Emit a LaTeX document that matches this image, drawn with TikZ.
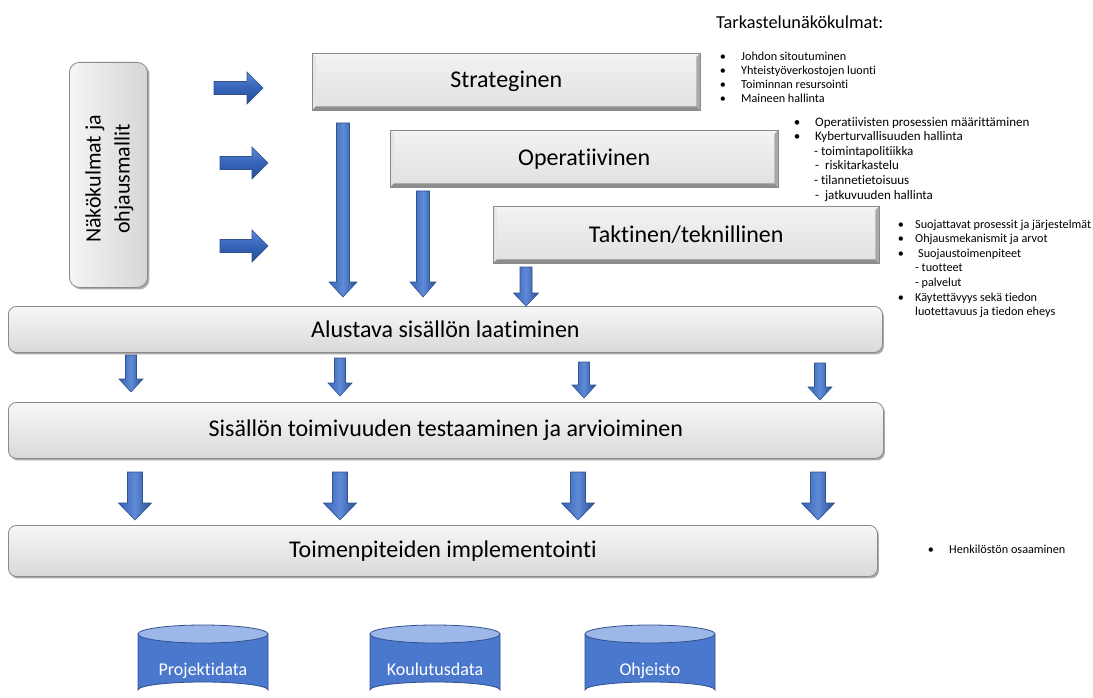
\documentclass[tikz,border=0pt]{standalone}
\usepackage{fontspec}
\setmainfont{Carlito}[Ligatures=NoCommon]
\usetikzlibrary{calc,shadows}
\definecolor{blueE}{HTML}{3463B8}
\definecolor{blueM}{HTML}{5F8AD6}
\definecolor{blueK}{HTML}{274E94}
\definecolor{blueO}{HTML}{2F528F}
\definecolor{cylBody}{HTML}{4A78CC}
\definecolor{cylTop}{HTML}{9DB7E8}
\definecolor{bevTop}{HTML}{F4F4F4}
\definecolor{bevLeft}{HTML}{E4E4E4}
\definecolor{bevBot}{HTML}{8E8E8E}
\definecolor{bevRight}{HTML}{A9A9A9}
\definecolor{boxEdge}{HTML}{8A8A8A}
\newcommand{\bevelfx}[1]{%
  \fill[bevTop] (#1.north west) -- (#1.north east) -- ($(#1.north east)+(-4,4)$) -- ($(#1.north west)+(4,4)$) -- cycle;
  \fill[bevLeft] (#1.north west) -- ($(#1.north west)+(4,4)$) -- ($(#1.south west)+(4,-4)$) -- (#1.south west) -- cycle;
  \fill[bevBot] (#1.south west) -- (#1.south east) -- ($(#1.south east)+(-4,-4)$) -- ($(#1.south west)+(4,-4)$) -- cycle;
  \fill[bevRight] (#1.north east) -- ($(#1.north east)+(-4,4)$) -- ($(#1.south east)+(-4,-4)$) -- (#1.south east) -- cycle;
  \draw[boxEdge,line width=0.8pt] (#1.north west) rectangle (#1.south east);
}
\newcommand{\varrow}[5]{%
  \draw[vblk] let \p1=#1, \p2=#2 in
   ({\x1-#3pt},\y1) -- ({\x1+#3pt},\y1) -- ({\x1+#3pt},{\y2+#5pt}) -- ({\x1+#4pt},{\y2+#5pt})
   -- (\x1,\y2) -- ({\x1-#4pt},{\y2+#5pt}) -- ({\x1-#3pt},{\y2+#5pt}) -- cycle;
}
\newcommand{\harrow}[5]{%
  \draw[hblk] let \p1=#1, \p2=#2 in
   (\x1,{\y1+#3pt}) -- (\x1,{\y1-#3pt}) -- ({\x2-#5pt},{\y1-#3pt}) -- ({\x2-#5pt},{\y1-#4pt})
   -- (\x2,\y1) -- ({\x2-#5pt},{\y1+#4pt}) -- ({\x2-#5pt},{\y1+#3pt}) -- cycle;
}
\tikzset{
  vblk/.style={draw=blueO, line width=0.6pt, left color=blueE, right color=blueK, middle color=blueM},
  hblk/.style={draw=blueO, line width=0.6pt, top color=blueM, bottom color=blueK, middle color=blueE},
  bevelbox/.style={rectangle, inner sep=0pt, anchor=north west, top color=gray!10, bottom color=gray!24},
  bigtext/.style={font=\fontsize{24}{28}\selectfont},
  roundbox/.style={rectangle, rounded corners=8pt, inner sep=0pt, anchor=north west, draw=boxEdge, line width=0.8pt,
     top color=gray!6, bottom color=gray!30, bigtext,
     drop shadow={shadow xshift=1.5pt, shadow yshift=-2pt, opacity=0.6, fill=black!55}},
  sidebox/.style={rectangle, rounded corners=10pt, inner sep=0pt, anchor=north west, draw=boxEdge, line width=0.8pt,
     left color=gray!8, right color=gray!32,
     drop shadow={shadow xshift=2pt, shadow yshift=-2pt, opacity=0.6, fill=black!55}},
  cyltext/.style={text=white, anchor=base, inner sep=0pt, font=\fontsize{18}{21}\selectfont},
  cyl/.style={draw=blueO, line width=0.8pt},
  lst/.style={anchor=base west, inner sep=0pt, font=\fontsize{13}{15}\selectfont},
  bul/.style={anchor=base, inner sep=0pt, font=\fontsize{13}{15}\selectfont},
  lsts/.style={anchor=base west, inner sep=0pt, font=\fontsize{12.2}{14}\selectfont},
  buls/.style={anchor=base, inner sep=0pt, font=\fontsize{12.2}{14}\selectfont},
}
\newcommand{\cylinderat}[3]{% name, left x, text
  \fill[cylBody] (#2,634) -- (#2,690) arc[start angle=180, end angle=360, x radius=65, y radius=8] -- ({#2+130},634) -- cycle;
  \draw[cyl] (#2,634) -- (#2,690) arc[start angle=180, end angle=360, x radius=65, y radius=8] -- ({#2+130},634);
  \draw[cyl, fill=cylTop] ({#2+65},634) ellipse[x radius=65, y radius=9];
  \node[cyltext] (#1) at ({#2+65},675) {#3};
}
\begin{document}
\begin{tikzpicture}[x=1pt,y=-1pt]
\clip (0,0) rectangle (1093,698);
\fill[white] (0,0) rectangle (1093,698);

% side box
\node[sidebox, minimum width=78, minimum height=225] (side) at (69,62) {};
\node[rotate=90, align=center, font=\fontsize{22}{29}\selectfont] (sidet) at ([xshift=1pt,yshift=-4pt]side.center) {Näkökulmat ja\\ohjausmallit};

% bevel boxes
\node[bevelbox, minimum width=388, minimum height=57] (strat) at (312,53) {};
\bevelfx{strat}
\node[bigtext] (stratt) at (strat.center) {Strateginen};
\node[bevelbox, minimum width=388, minimum height=57] (oper) at (390,130) {};
\bevelfx{oper}
\node[bigtext] (opert) at (oper.center) {Operatiivinen};
\node[bevelbox, minimum width=386, minimum height=57] (takt) at (493,206) {};
\bevelfx{takt}
\node[bigtext] (taktt) at (takt.center) {Taktinen/teknillinen};

% rounded boxes
\node[roundbox, minimum width=874, minimum height=46] (alust) at (8,306) {Alustava sisällön laatiminen};
\node[roundbox, minimum width=875, minimum height=56] (sisal) at (8,402) {Sisällön toimivuuden testaaminen ja arvioiminen};
\node[roundbox, minimum width=869, minimum height=51] (toimp) at (8,525) {Toimenpiteiden implementointi};

% horizontal arrows
\coordinate (h1s) at (214,88); \coordinate (h1e) at (263,88);
\coordinate (h2s) at (220,163); \coordinate (h2e) at (268,163);
\coordinate (h3s) at (220,246); \coordinate (h3e) at (268,246);
\harrow{(h1s)}{(h1e)}{6.5}{16}{16}
\harrow{(h2s)}{(h2e)}{6.5}{16}{16}
\harrow{(h3s)}{(h3e)}{6.5}{16}{16}

% long vertical arrows
\coordinate (v1s) at (343,123); \coordinate (v1e) at (343,297);
\coordinate (v2s) at (423,191); \coordinate (v2e) at (423,297);
\coordinate (v3s) at (526,267); \coordinate (v3e) at (526,306);
\varrow{(v1s)}{(v1e)}{6.5}{14}{15}
\varrow{(v2s)}{(v2e)}{6.5}{13}{15}
\varrow{(v3s)}{(v3e)}{6}{12.5}{13}

% arrows alust -> sisal
\coordinate (m1s) at (131,355); \coordinate (m1e) at (131,392);
\coordinate (m2s) at (340,358); \coordinate (m2e) at (340,396);
\coordinate (m3s) at (584,362); \coordinate (m3e) at (584,398);
\coordinate (m4s) at (820,363); \coordinate (m4e) at (820,400);
\varrow{(m1s)}{(m1e)}{5.5}{12}{13}
\varrow{(m2s)}{(m2e)}{5.5}{12}{13}
\varrow{(m3s)}{(m3e)}{5.5}{12}{13}
\varrow{(m4s)}{(m4e)}{5.5}{12}{13}

% arrows sisal -> toimp
\coordinate (b1s) at (135,472); \coordinate (b1e) at (135,520);
\coordinate (b2s) at (340,472); \coordinate (b2e) at (340,520);
\coordinate (b3s) at (578,472); \coordinate (b3e) at (578,520);
\coordinate (b4s) at (818,472); \coordinate (b4e) at (818,520);
\varrow{(b1s)}{(b1e)}{7.5}{16.5}{17}
\varrow{(b2s)}{(b2e)}{7.5}{16.5}{17}
\varrow{(b3s)}{(b3e)}{7.5}{16.5}{17}
\varrow{(b4s)}{(b4e)}{7.5}{16.5}{17}

% cylinders
\cylinderat{cyl1}{138}{Projektidata}
\cylinderat{cyl2}{370}{Koulutusdata}
\cylinderat{cyl3}{585}{Ohjeisto}

% title
\node[anchor=west, inner sep=0pt, font=\fontsize{18.3}{22}\selectfont] (title) at (716,22) {Tarkastelunäkökulmat:};

% list 1
\foreach \yy/\tt [count=\i] in {60.5/Johdon sitoutuminen, 74.5/Yhteistyöverkostojen luonti, 88.5/Toiminnan resursointi, 102.5/Maineen hallinta}{
  \node[buls] (ba\i) at (723,\yy) {\textbullet};
  \node[lsts] (la\i) at (741,\yy) {\tt};
}
% list 2
\node[bul] (bb1) at (797,127) {\textbullet};
\node[lst] (lb1) at (815,127) {Operatiivisten prosessien määrittäminen};
\node[bul] (bb2) at (797,141) {\textbullet};
\node[lst] (lb2) at (815,141) {Kyberturvallisuuden hallinta};
\node[lst] (lb3) at (814,156) {- toimintapolitiikka};
\node[lst] (lb4) at (815,170) {-\ \ riskitarkastelu};
\node[lst] (lb5) at (814,185) {- tilannetietoisuus};
\node[lst] (lb6) at (815,200) {-\ \ jatkuvuuden hallinta};
% list 3
\node[buls] (bc1) at (901,228.5) {\textbullet};
\node[lsts] (lc1) at (915,228.5) {Suojattavat prosessit ja järjestelmät};
\node[buls] (bc2) at (901,242.5) {\textbullet};
\node[lsts] (lc2) at (915,242.5) {Ohjausmekanismit ja arvot};
\node[buls] (bc3) at (901,257.5) {\textbullet};
\node[lsts] (lc3) at (918,257.5) {Suojaustoimenpiteet};
\node[lsts] (lc4) at (915,271.5) {- tuotteet};
\node[lsts] (lc5) at (915,286.5) {- palvelut};
\node[buls] (bc6) at (901,301.5) {\textbullet};
\node[lsts] (lc6) at (915,301.5) {Käytettävyys sekä tiedon};
\node[lsts] (lc7) at (915,315.5) {luotettavuus ja tiedon eheys};
% list 4
\node[buls] (bd1) at (931,553.5) {\textbullet};
\node[lsts] (ld1) at (949,553.5) {Henkilöstön osaaminen};
\end{tikzpicture}
\end{document}
